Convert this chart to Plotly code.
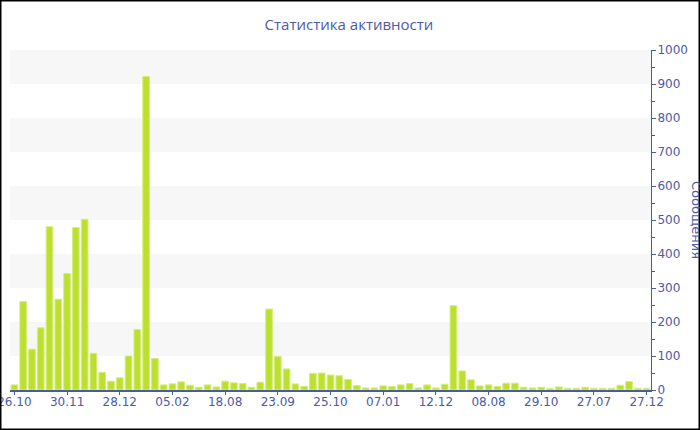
import plotly.graph_objects as go

values = [15, 260, 120, 183, 480, 267, 343, 478, 502, 108,
          52, 26, 36, 100, 178, 922, 93, 15, 18, 24,
          14, 8, 15, 9, 26, 21, 19, 8, 23, 238,
          99, 62, 18, 11, 49, 50, 44, 42, 31, 13,
          6, 6, 12, 10, 15, 19, 6, 15, 6, 17,
          248, 56, 30, 12, 15, 10, 20, 20, 8, 6,
          8, 4, 9, 5, 5, 8, 5, 5, 5, 14,
          25, 5, 5]
x_idx = list(range(len(values)))
tick_labels = ["26.10", "30.11", "28.12", "05.02", "18.08", "23.09", "25.10",
               "07.01", "12.12", "08.08", "29.10", "27.07", "27.12"]
tick_pos = list(range(0, len(values), 6))
band_ranges = [(100, 200), (300, 400), (500, 600), (700, 800), (900, 1000)]

title_text = "Статистика активности"
y_title = "Сообщения"

BLUE = "#4a5ba6"
W, H = 700, 430
L, R, T, B = 10, 49, 50, 40
PW, PH = W - L - R, H - T - B

fig = go.Figure()
fig.add_trace(go.Bar(
    x=x_idx, y=values,
    marker=dict(color="#bde030", line=dict(color="#d6ee7a", width=1)),
    hoverinfo="y",
))

shapes = []
for lo, hi in band_ranges:
    shapes.append(dict(type="rect", xref="paper", yref="y", x0=0, x1=1, y0=lo, y1=hi,
                       fillcolor="#f7f7f7", line=dict(width=0), layer="below"))

def px_x(p):
    return (p - L) / PW

def px_y(p):
    return (H - B - p) / PH

shapes.append(dict(type="rect", xref="paper", yref="paper",
                   x0=px_x(0.5), x1=px_x(699.5), y0=px_y(429.5), y1=px_y(0.5),
                   line=dict(color="#000000", width=2), fillcolor="rgba(0,0,0,0)", layer="above"))

fig.update_layout(
    width=W, height=H,
    margin=dict(l=L, r=R, t=T, b=B, autoexpand=False),
    paper_bgcolor="white", plot_bgcolor="white",
    bargap=0.24,
    showlegend=False,
    title=dict(text=title_text, x=349 / W, xref="container", xanchor="center",
               y=1 - 25 / H, yanchor="middle", yref="container",
               font=dict(family="Open Sans", size=15, color=BLUE)),
    shapes=shapes,
    annotations=[dict(text=y_title, xref="paper", yref="paper", x=px_x(697), y=0.5,
                      textangle=90, showarrow=False, xanchor="center", yanchor="middle",
                      font=dict(family="DejaVu Sans", size=13, color=BLUE))],
    font=dict(family="DejaVu Sans", size=12, color=BLUE),
)
fig.update_xaxes(
    range=[-0.5, len(values) - 0.5],
    tickmode="array", tickvals=tick_pos, ticktext=tick_labels,
    showline=True, linecolor=BLUE, linewidth=2,
    ticks="outside", ticklen=3, tickcolor=BLUE, tickwidth=1,
    ticklabelstandoff=-3,
    showgrid=False, zeroline=False, automargin=False,
    ticklabeloverflow="allow",
    tickfont=dict(family="DejaVu Sans", size=12, color=BLUE),
)
fig.update_yaxes(
    side="right", range=[0, 1000], dtick=100, tick0=0,
    showline=True, linecolor=BLUE, linewidth=1,
    ticks="outside", ticklen=4, tickcolor=BLUE, tickwidth=1,
    ticklabelstandoff=-1,
    minor=dict(dtick=50, ticks="outside", ticklen=3, tickcolor=BLUE, showgrid=False),
    showgrid=False, zeroline=False, automargin=False,
    ticklabeloverflow="allow",
    tickfont=dict(family="DejaVu Sans", size=12, color=BLUE),
)

fig.write_html("out.html",
               config={"displayModeBar": False},
               post_script="document.body.style.margin='0';document.body.style.padding='0';document.body.style.overflow='hidden';")
